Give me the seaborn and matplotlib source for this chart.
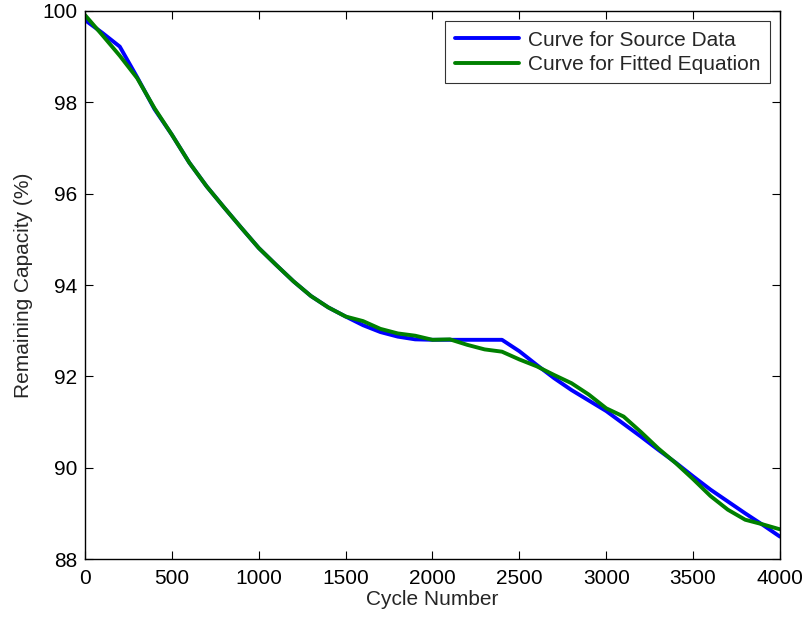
import seaborn as sns
import pandas as pd
import matplotlib.pyplot as plt
import numpy as np

sns.set_style('ticks')
plt.rcParams['font.family'] = ['Liberation Sans', 'DejaVu Sans']

cycles = list(range(0, 4001, 100))
source = [99.80, 99.52, 99.22, 98.55, 97.85, 97.29, 96.68, 96.16, 95.70, 95.25,
          94.81, 94.44, 94.08, 93.76, 93.51, 93.31, 93.12, 92.97, 92.87, 92.81,
          92.80, 92.80, 92.80, 92.80, 92.80, 92.55, 92.25, 91.96, 91.70, 91.47,
          91.24, 90.96, 90.68, 90.39, 90.11, 89.81, 89.52, 89.26, 89.00, 88.75,
          88.49]
fitted = [99.91, 99.47, 99.02, 98.53, 97.87, 97.29, 96.68, 96.16, 95.70, 95.25,
          94.81, 94.44, 94.08, 93.76, 93.51, 93.31, 93.21, 93.04, 92.94, 92.89,
          92.80, 92.81, 92.69, 92.59, 92.54, 92.37, 92.22, 92.03, 91.85, 91.60,
          91.30, 91.12, 90.78, 90.42, 90.10, 89.75, 89.38, 89.08, 88.86, 88.76,
          88.65]

df = pd.DataFrame({'cycle': cycles, 'source': source, 'fitted': fitted})

fig = plt.figure(figsize=(8.06, 6.21), dpi=100)
ax = fig.add_axes([0.1055, 0.0998, 0.8622, 0.8825])

sns.lineplot(data=df, x='cycle', y='source', color='#0000ff', lw=2.8,
             label='Curve for Source Data', ax=ax)
sns.lineplot(data=df, x='cycle', y='fitted', color='#008000', lw=2.8,
             label='Curve for Fitted Equation', ax=ax)

ax.set_xlim(0, 4000)
ax.set_ylim(88, 100)
ax.set_xticks(np.arange(0, 4001, 500))
ax.set_yticks(np.arange(88, 101, 2))
ax.set_xlabel('Cycle Number', fontsize=15, labelpad=1.5)
ax.set_ylabel('Remaining Capacity (%)', fontsize=15, labelpad=7)
ax.tick_params(direction='in', length=6, width=0.8, labelsize=15,
               top=True, right=True, colors='black')
ax.tick_params(axis='x', pad=7)
ax.tick_params(axis='y', pad=5.5)
for s in ax.spines.values():
    s.set_linewidth(1.0)
    s.set_color('black')

leg = ax.legend(loc='upper right', fontsize=15, frameon=True, fancybox=False,
                handlelength=3.1, borderaxespad=0.5, borderpad=0.45,
                labelspacing=0.25, handletextpad=0.4)
leg.get_frame().set_edgecolor('black')
leg.get_frame().set_linewidth(0.8)

fig.savefig('out.png', dpi=100)
